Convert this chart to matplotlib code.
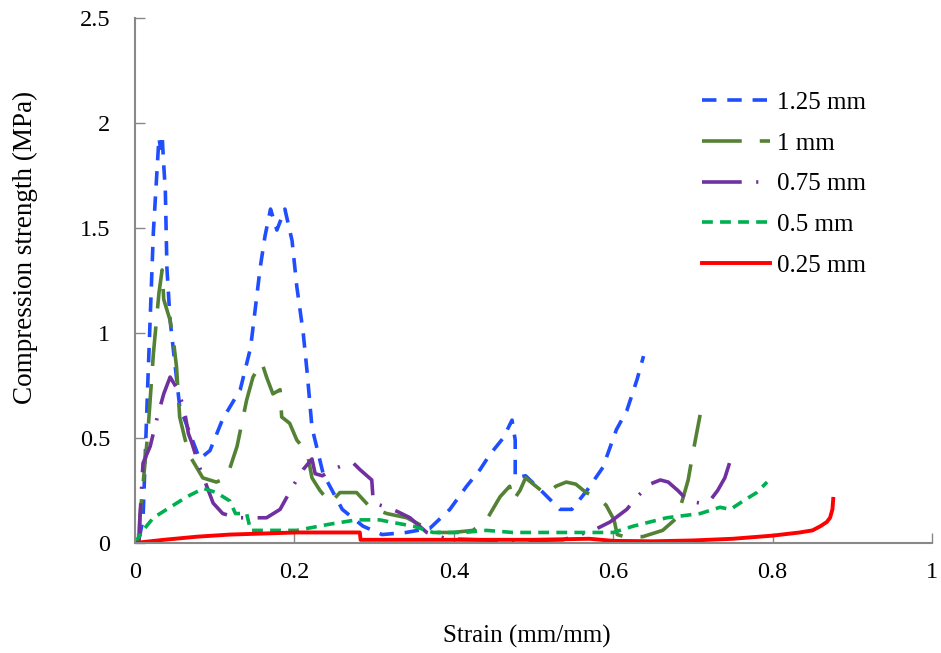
import matplotlib.pyplot as plt
import numpy as np

plt.rcParams['font.family'] = ['Liberation Serif', 'DejaVu Serif']

# 1.25 mm
x_125 = [0.005, 0.01, 0.016, 0.023, 0.03, 0.032, 0.034, 0.036, 0.038, 0.04, 0.044, 0.056, 0.081,
         0.094, 0.11, 0.132, 0.145, 0.157, 0.163, 0.17, 0.178, 0.188, 0.197, 0.203, 0.211, 0.216,
         0.222, 0.236, 0.26, 0.286, 0.31, 0.34, 0.37, 0.395, 0.416, 0.433, 0.445, 0.462, 0.473,
         0.477, 0.477, 0.49, 0.512, 0.533, 0.548, 0.567, 0.587, 0.604, 0.617, 0.63, 0.638]
y_125 = [0.02, 0.11, 0.76, 1.48, 1.93, 1.88, 1.94, 1.80, 1.68, 1.31, 1.06, 0.65, 0.40,
         0.44, 0.59, 0.73, 0.93, 1.31, 1.46, 1.59, 1.49, 1.59, 1.44, 1.22, 1.00, 0.81,
         0.55, 0.33, 0.16, 0.08, 0.04, 0.05, 0.07, 0.16, 0.27, 0.35, 0.42, 0.50, 0.585,
         0.49, 0.31, 0.32, 0.24, 0.16, 0.16, 0.25, 0.36, 0.54, 0.63, 0.78, 0.89]

# 1 mm
x_1 = [0.005, 0.006, 0.016, 0.023, 0.03, 0.034, 0.036, 0.044, 0.048, 0.052, 0.056, 0.063, 0.071,
       0.085, 0.102, 0.115, 0.128, 0.14, 0.148, 0.159, 0.165, 0.173, 0.182, 0.184, 0.194, 0.203,
       0.216, 0.222, 0.232, 0.245, 0.257, 0.278, 0.295, 0.316, 0.341, 0.361, 0.374, 0.399, 0.424,
       0.441, 0.458, 0.47, 0.474, 0.483, 0.49, 0.503, 0.516, 0.528, 0.541, 0.553, 0.566, 0.578,
       0.591, 0.601, 0.605, 0.614, 0.637, 0.662, 0.68, 0.688, 0.694, 0.70, 0.709]
y_1 = [0.02, 0.12, 0.52, 0.90, 1.19, 1.30, 1.16, 1.06, 0.97, 0.84, 0.60, 0.49, 0.40,
       0.31, 0.29, 0.31, 0.46, 0.68, 0.79, 0.86, 0.79, 0.71, 0.73, 0.60, 0.57, 0.49,
       0.43, 0.31, 0.25, 0.19, 0.24, 0.24, 0.17, 0.14, 0.12, 0.08, 0.05, 0.05, 0.06,
       0.11, 0.22, 0.27, 0.20, 0.25, 0.31, 0.27, 0.23, 0.27, 0.29, 0.28, 0.24, 0.22,
       0.18, 0.11, 0.04, 0.03, 0.03, 0.06, 0.12, 0.22, 0.30, 0.43, 0.61]

# 0.75 mm
x_075 = [0.005, 0.006, 0.01, 0.019, 0.028, 0.036, 0.044, 0.052, 0.061, 0.067, 0.071, 0.081, 0.092,
         0.098, 0.11, 0.128, 0.145, 0.165, 0.182, 0.198, 0.211, 0.222, 0.226, 0.235, 0.248, 0.261,
         0.274, 0.282, 0.297, 0.299, 0.316, 0.329, 0.345, 0.354, 0.366, 0.391, 0.433, 0.474, 0.537,
         0.575, 0.596, 0.617, 0.63, 0.646, 0.659, 0.669, 0.681, 0.694, 0.709, 0.721, 0.731, 0.74, 0.75]
y_075 = [0.0, 0.11, 0.38, 0.46, 0.60, 0.71, 0.79, 0.74, 0.65, 0.52, 0.48, 0.36, 0.25,
         0.19, 0.14, 0.12, 0.12, 0.12, 0.16, 0.27, 0.35, 0.40, 0.33, 0.32, 0.35, 0.37,
         0.38, 0.35, 0.30, 0.19, 0.17, 0.15, 0.12, 0.09, 0.05, 0.02, 0.015, 0.01, 0.015,
         0.06, 0.10, 0.16, 0.22, 0.28, 0.30, 0.29, 0.25, 0.20, 0.19, 0.20, 0.25, 0.31, 0.43]

# 0.5 mm
x_05 = [0.0, 0.01, 0.023, 0.044, 0.065, 0.086, 0.102, 0.119, 0.126, 0.14, 0.145, 0.17, 0.203,
        0.245, 0.278, 0.307, 0.32, 0.349, 0.374, 0.412, 0.441, 0.474, 0.516, 0.558, 0.60,
        0.625, 0.667, 0.709, 0.734, 0.747, 0.763, 0.78, 0.793]
y_05 = [0.0, 0.06, 0.12, 0.17, 0.22, 0.26, 0.24, 0.20, 0.14, 0.14, 0.06, 0.06, 0.06,
        0.09, 0.11, 0.11, 0.10, 0.08, 0.05, 0.05, 0.06, 0.05, 0.05, 0.05, 0.05,
        0.08, 0.12, 0.14, 0.17, 0.16, 0.20, 0.24, 0.29]

# 0.25 mm
x_025 = [0.0, 0.036, 0.078, 0.119, 0.203, 0.282, 0.283, 0.40, 0.50, 0.57, 0.60, 0.65, 0.70,
         0.75, 0.80, 0.834, 0.85, 0.86, 0.868, 0.872, 0.875, 0.876]
y_025 = [0.0, 0.015, 0.03, 0.04, 0.05, 0.05, 0.015, 0.015, 0.015, 0.02, 0.01, 0.008, 0.012,
         0.02, 0.035, 0.05, 0.06, 0.08, 0.10, 0.12, 0.16, 0.21]

fig = plt.figure(figsize=(9.41, 6.53), dpi=100)
ax = fig.add_axes([0.1435, 0.1685, 0.847, 0.804])

ax.plot(x_125, y_125, color='#1f4eff', lw=2.6, dashes=(4, 3), label='1.25 mm')
ax.plot(x_1, y_1, color='#548235', lw=2.6, dashes=(11, 5), label='1 mm')
ax.plot(x_075, y_075, color='#7030a0', lw=2.6, dashes=(11, 4, 0.6, 4), label='0.75 mm')
ax.plot(x_05, y_05, color='#00b050', lw=2.6, dashes=(3, 2), label='0.5 mm')
ax.plot(x_025, y_025, color='#ff0000', lw=2.8, label='0.25 mm')

ax.set_xlim(0, 1)
ax.set_ylim(0, 2.5)
ax.set_xticks([0, 0.2, 0.4, 0.6, 0.8, 1])
ax.set_xticklabels(['0', '0.2', '0.4', '0.6', '0.8', '1'])
ax.set_yticks([0, 0.5, 1, 1.5, 2, 2.5])
ax.set_yticklabels(['0', '0.5', '1', '1.5', '2', '2.5'])
ax.tick_params(direction='in', length=7, width=1, color='#888888', labelsize=17.5)
ax.tick_params(axis='y', pad=18)
ax.tick_params(axis='x', pad=14)
ax.spines['top'].set_visible(False)
ax.spines['right'].set_visible(False)
ax.spines['left'].set_color('#888888')
ax.spines['bottom'].set_color('#888888')
ax.spines['left'].set_linewidth(1.5)
ax.spines['bottom'].set_linewidth(1.5)

ax.set_xlabel('Strain (mm/mm)', fontsize=18, va='top')
ax.xaxis.set_label_coords(0.492, -0.157)
ax.set_ylabel('Compression strength (MPa)', fontsize=19.5)
ax.yaxis.set_label_coords(-0.122, 0.562)

ax.legend(loc='upper left', bbox_to_anchor=(0.696, 0.884), frameon=False, fontsize=18,
          borderpad=0, handlelength=2.72, handletextpad=0.25, labelspacing=0.73)

fig.savefig('out.png', dpi=100)
